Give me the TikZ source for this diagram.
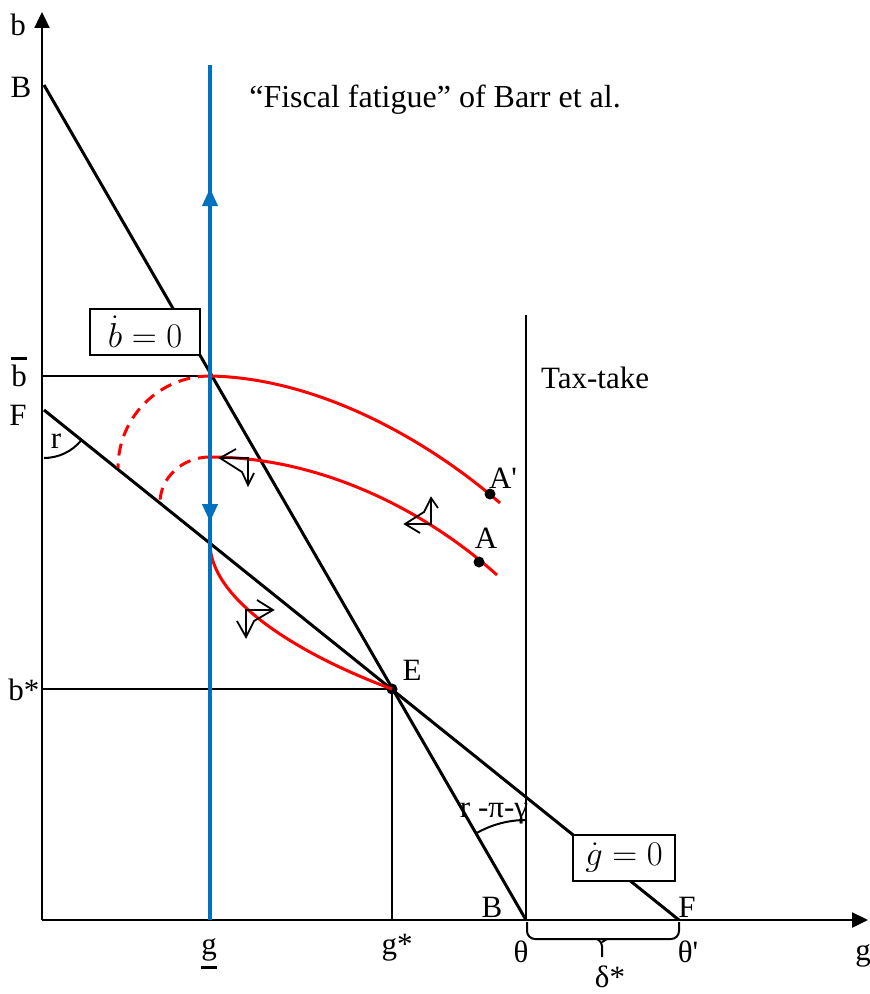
\documentclass[tikz,border=0pt]{standalone}
\usepackage{fontspec}
\setmainfont{Liberation Serif}
\usetikzlibrary{arrows.meta,decorations.pathreplacing,decorations.markings}
\definecolor{axblue}{RGB}{0,112,192}
\tikzset{bluehead/.tip={Triangle[width=7.5pt,length=9pt]}}
\begin{document}
\begin{tikzpicture}[x=0.5pt,y=-0.5pt,
  lbl/.style={font=\fontsize{15.5}{18}\selectfont, inner sep=0pt},
  axisline/.style={line width=1.2pt},
  mainline/.style={line width=1.5pt},
  thinline/.style={line width=1pt},
  redc/.style={red, line width=1.5pt},
  reddash/.style={red, line width=1.5pt, dash pattern=on 6pt off 4pt},
  phase/.style={line width=0.9pt, line join=miter},
  eqbox/.style={draw, line width=0.6pt, fill=white, minimum width=55pt, minimum height=23pt, inner sep=0pt, font=\fontsize{17}{20}\selectfont},
  dot/.style={circle, fill=black, inner sep=0pt, minimum size=5.5pt}
]
\useasboundingbox (0,0) rectangle (870,994);

% key points
\coordinate (O) at (42,920);
\coordinate (Ytop) at (42,12);
\coordinate (Xend) at (868,920);
\coordinate (Btop) at (44,85);
\coordinate (Bbot) at (526,920);
\coordinate (Ftop) at (44,410);
\coordinate (Fbot) at (679,920);
\coordinate (Gb) at (210,920);
\coordinate (Gt) at (210,65);
\coordinate (Ttop) at (526,315);
\coordinate (bbarY) at (42,376);
\coordinate (P1) at (210,376);
\coordinate (bstarY) at (42,689);
\coordinate (gstarX) at (392,920);
\coordinate (P2) at (210,457);
\coordinate (P3) at (210,543);
\coordinate (BrL) at (527,922);
\coordinate (BrR) at (679,922);
\coordinate (BrM) at (602,939);
\coordinate (BrTip) at (602,957);

% axes
\draw[axisline, -{Triangle[width=7.5pt,length=8pt]}] (O) -- (Ytop);
\draw[axisline, -{Triangle[width=7.5pt,length=8pt]}] (O) -- (Xend);

% guide lines
\draw[thinline] (bbarY) -- (P1);
\node[dot] (E) at (392,689) {};
\draw[thinline] (bstarY) -- (E.center);
\draw[thinline] (E.center) -- (gstarX);
\draw[thinline] (Bbot) -- (Ttop);

% BB and FF lines
\draw[mainline] (Btop) -- (Bbot);
\draw[mainline] (Ftop) -- (Fbot);

% boxes
\node[eqbox] (bdot) at (145,332) {$\dot b = 0$};
\node[eqbox, minimum width=51pt] (gdot) at (624,858) {$\dot g = 0$};

% angle arcs
\draw[thinline] (44,458) arc[start angle=90, end angle=38.8, radius=48];
\draw[thinline] (476,833.4) arc[start angle=240, end angle=270, radius=100];

% red trajectories
\draw[redc] (P1) .. controls (320,378) and (430,442) .. (500,503);
\draw[redc] (P2) .. controls (320,457) and (425,510) .. (497,575);
\draw[redc] (P3) .. controls (210,600) and (300,655) .. (E.center);
\draw[reddash] (P1) arc[start angle=270, end angle=180, radius=92];
\draw[reddash] (P2) arc[start angle=270, end angle=180, x radius=50, y radius=46];

% blue vertical line with arrows
\draw[axblue, line width=2pt, postaction={decorate},
  decoration={markings,
    mark=at position 0.856 with {\arrow{bluehead}},
    mark=at position 0.4655 with {\arrowreversed{bluehead}}}] (Gb) -- (Gt);

% dots
\node[dot] (Ap) at (490,494) {};
\node[dot] (A) at (479,562) {};

% phase arrows
\draw[phase] (236,449) -- (220,458) -- (242,472) -- (248,485) -- (254,473);
\draw[phase] (220,458) -- (248,458) -- (248,485);
\draw[phase] (420,533) -- (405,524) -- (424,512) -- (431,498) -- (438,508);
\draw[phase] (405,524) -- (431,524) -- (431,498);
\draw[phase] (257,600) -- (273,610) -- (254,621) -- (246,637) -- (237,621);
\draw[phase] (273,610) -- (246,610) -- (246,637);

% brace
\draw[thinline, rounded corners=4pt] (BrL) |- (BrM) -| (BrR);
\draw[thinline, rounded corners=2pt] (597,939) -- (602,942) -- (BrTip);
\draw[thinline, rounded corners=2pt] (607,939) -- (602,942);

% labels
\node[lbl] (lb) at (18,25) {b};
\node[lbl] (lB) at (21,87) {B};
\node[lbl] (lbbar) at (19,376) {b};
\draw[line width=1.3pt] ([yshift=3pt]lbbar.north west) -- ([yshift=3pt]lbbar.north east);
\node[lbl] (lF) at (18,415) {F};
\node[lbl] (lr) at (56,441) {r};
\node[lbl] (lbstar) at (24,690) {b*};
\node[lbl] (lE) at (412,670) {E};
\node[lbl] (lAp) at (503,478) {A\textquotesingle};
\node[lbl] (lA) at (486,538) {A};
\node[lbl] (ltax) at (595,378) {Tax-take};
\node[lbl, font=\fontsize{16}{19}\selectfont] (ltitle) at (435,100) {“Fiscal fatigue” of Barr et al.};
\node[lbl] (lrpg) at (494,813) {r -π-γ};
\node[lbl] (lB2) at (492,907) {B};
\node[lbl] (lF2) at (687,907) {F};
\node[lbl] (ltheta) at (521,952) {θ};
\node[lbl] (lthetap) at (688,952) {θ\textquotesingle};
\node[lbl] (ldelta) at (610,977) {δ*};
\node[lbl] (lgbar) at (209,950) {g};
\draw[line width=1.3pt] ([yshift=-3pt]lgbar.south west) -- ([yshift=-3pt]lgbar.south east);
\node[lbl] (lgstar) at (397,948) {g*};
\node[lbl] (lg) at (863,956) {g};
\end{tikzpicture}
\end{document}
